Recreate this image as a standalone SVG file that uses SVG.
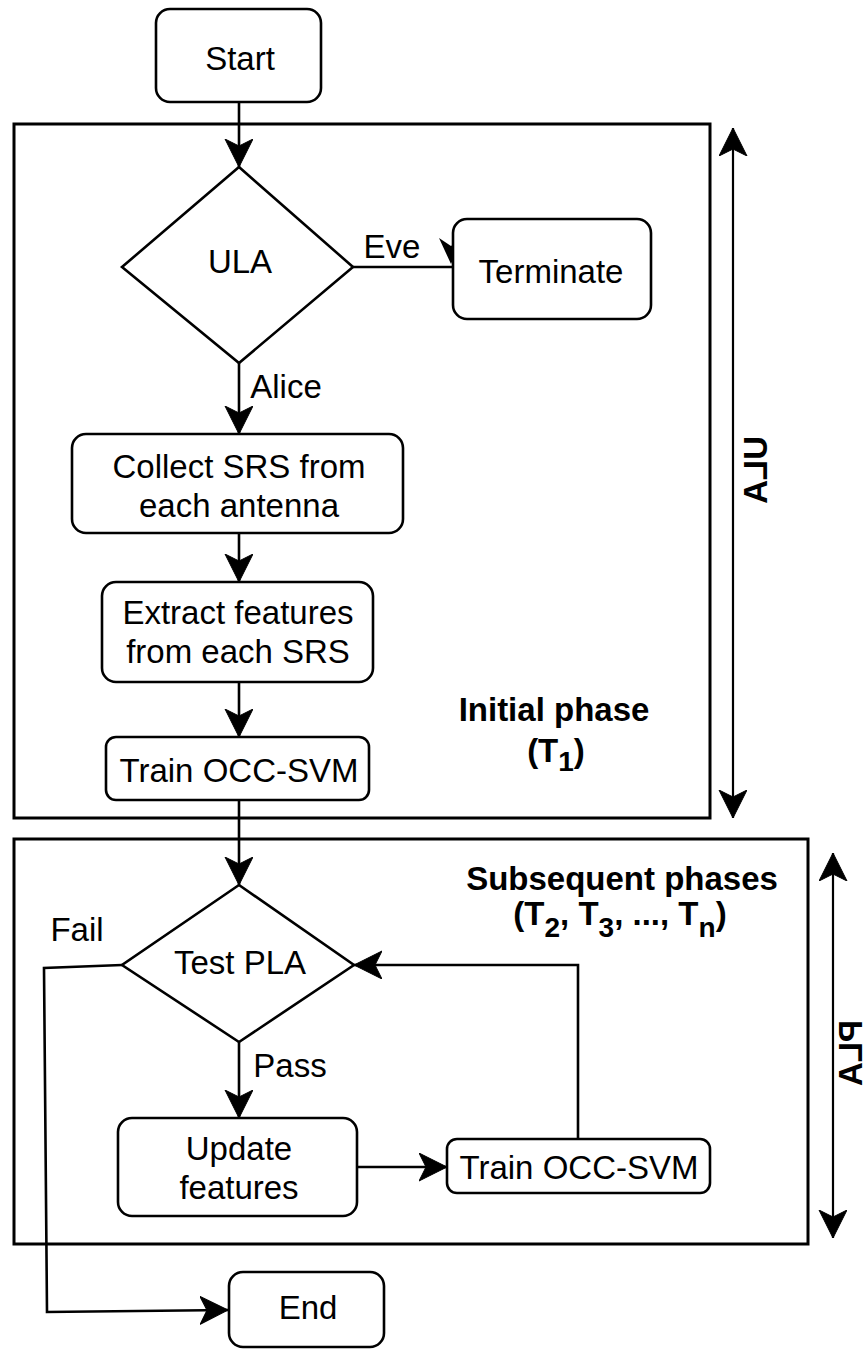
<svg xmlns="http://www.w3.org/2000/svg" width="867" height="1351" viewBox="0 0 867 1351">
  <style>
    .frame { fill: none; stroke: #000; stroke-width: 3; }
    .box { fill: #fff; stroke: #000; stroke-width: 2.6; }
    .edge { fill: none; stroke: #000; stroke-width: 2.6; }
    .span { fill: none; stroke: #000; stroke-width: 2.2; }
    .t { font-family: "Liberation Sans", Arial, sans-serif; font-size: 33px; fill: #000; text-anchor: middle; }
    .b { font-weight: bold; }
    .sub { font-size: 28px; }
  </style>
  <defs>
    <marker id="arrow" markerUnits="userSpaceOnUse" markerWidth="30" markerHeight="30" viewBox="0 0 30 30" refX="28" refY="14" orient="auto-start-reverse">
      <path d="M0,0 L28,14 L0,28 L7,14 Z" fill="#000" stroke="#000" stroke-width="1"/>
    </marker>
  </defs>

  <!-- phase frames -->
  <g id="initial-phase">
    <rect class="frame" x="14" y="124" width="696" height="694"/>
    <text class="t b" x="554" y="721">Initial phase</text>
    <text class="t b" x="556" y="762">(T<tspan class="sub" dy="9">1</tspan><tspan dy="-9">)</tspan></text>
  </g>
  <g id="subsequent-phases">
    <rect class="frame" x="14" y="839" width="794" height="405"/>
    <text class="t b" x="622" y="890">Subsequent phases</text>
    <text class="t b" x="620" y="925">(T<tspan class="sub" dy="12">2</tspan><tspan dy="-12">, T</tspan><tspan class="sub" dy="12">3</tspan><tspan dy="-12">, ..., T</tspan><tspan class="sub" dy="12">n</tspan><tspan dy="-12">)</tspan></text>
  </g>

  <!-- connectors -->
  <g id="connectors">
    <path class="edge" d="M239,102 L239,167" marker-end="url(#arrow)"/>
    <path class="edge" d="M353,267 L453,267"/>
    <polygon points="451,264 439,238 451,246 463,238" fill="#000"/>
    <text class="t" x="392" y="258">Eve</text>
    <path class="edge" d="M239,363 L239,434" marker-end="url(#arrow)"/>
    <text class="t" x="286" y="398">Alice</text>
    <path class="edge" d="M239,533 L239,582" marker-end="url(#arrow)"/>
    <path class="edge" d="M239,682 L239,737" marker-end="url(#arrow)"/>
    <path class="edge" d="M239,800 L239,885" marker-end="url(#arrow)"/>
    <path class="edge" d="M239,1042 L239,1118" marker-end="url(#arrow)"/>
    <text class="t" x="290" y="1077">Pass</text>
    <path class="edge" d="M357,1167 L447,1167" marker-end="url(#arrow)"/>
    <path class="edge" d="M578,1139 L578,965 L354,965" marker-end="url(#arrow)"/>
    <path class="edge" d="M122,965 L44,968 L47,1312 L228,1310" marker-end="url(#arrow)"/>
    <text class="t" x="77" y="941">Fail</text>
    <!-- phase spans -->
    <path class="span" d="M733,128 L733,818" marker-start="url(#arrow)" marker-end="url(#arrow)"/>
    <path class="span" d="M833,853 L833,1238" marker-start="url(#arrow)" marker-end="url(#arrow)"/>
    <text class="t b" transform="matrix(0,1,1,0,767,470)" x="0" y="0">ULA</text>
    <text class="t b" transform="matrix(0,1,1,0,862,1053)" x="0" y="0">PLA</text>
  </g>

  <!-- nodes -->
  <g id="start">
    <rect class="box" x="156" y="9" width="165" height="93" rx="14"/>
    <text class="t" x="240" y="70">Start</text>
  </g>
  <g id="ula">
    <polygon class="box" points="239,167 353,267 239,363 122,267"/>
    <text class="t" x="240" y="273">ULA</text>
  </g>
  <g id="terminate">
    <rect class="box" x="453" y="219" width="198" height="100" rx="14"/>
    <text class="t" x="551" y="283">Terminate</text>
  </g>
  <g id="collect">
    <rect class="box" x="72" y="434" width="331" height="99" rx="14"/>
    <text class="t" x="239" y="478">Collect SRS from</text>
    <text class="t" x="239" y="517">each antenna</text>
  </g>
  <g id="extract">
    <rect class="box" x="102" y="582" width="271" height="100" rx="14"/>
    <text class="t" x="238" y="624">Extract features</text>
    <text class="t" x="238" y="663">from each SRS</text>
  </g>
  <g id="train-initial">
    <rect class="box" x="106" y="737" width="263" height="63" rx="10"/>
    <text class="t" x="239" y="782">Train OCC-SVM</text>
  </g>
  <g id="test-pla">
    <polygon class="box" points="239,885 354,965 239,1042 122,965"/>
    <text class="t" x="240" y="974">Test PLA</text>
  </g>
  <g id="update">
    <rect class="box" x="118" y="1118" width="239" height="98" rx="14"/>
    <text class="t" x="239" y="1160">Update</text>
    <text class="t" x="239" y="1199">features</text>
  </g>
  <g id="train-update">
    <rect class="box" x="447" y="1139" width="263" height="54" rx="10"/>
    <text class="t" x="579" y="1179">Train OCC-SVM</text>
  </g>
  <g id="end">
    <rect class="box" x="229" y="1272" width="155" height="75" rx="14"/>
    <text class="t" x="308" y="1319">End</text>
  </g>
</svg>
